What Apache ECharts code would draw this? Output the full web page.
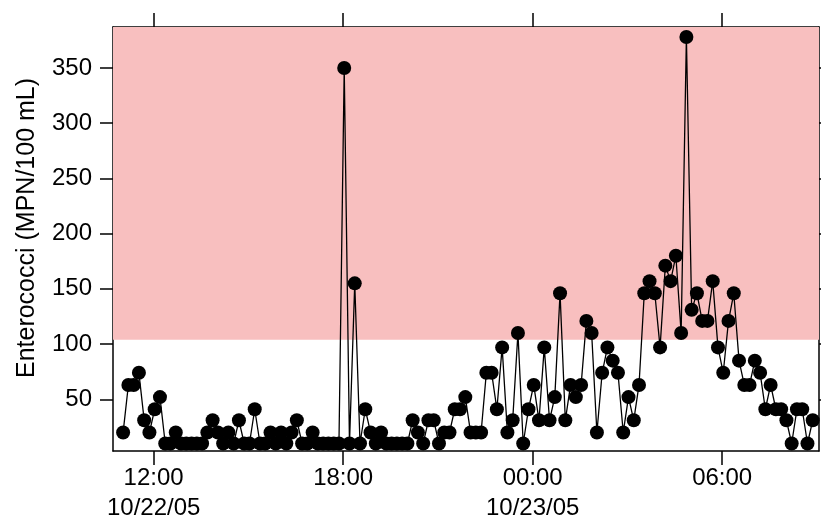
<!DOCTYPE html>
<html>
<head>
<meta charset="utf-8">
<script src="https://cdn.jsdelivr.net/npm/echarts@6/dist/echarts.min.js"></script>
<style>
  html, body { margin: 0; padding: 0; background: #fff; }
  #container { width: 821px; height: 524px; }
</style>
</head>
<body>
<div id="container"></div>
<script>
// samples every 10 minutes, first one at 11:02 on 10/22/05 (hours since midnight 10/22)
var sampleStartHour = 11 + 2 / 60;
var sampleStepHour = 10 / 60;

var enterococci = [
    20, 63, 63, 74, 31, 20, 41, 52, 10, 10,
    20, 10, 10, 10, 10, 10, 20, 31, 20, 10,
    20, 10, 31, 10, 10, 41, 10, 10, 20, 10,
    20, 10, 20, 31, 10, 10, 20, 10, 10, 10,
    10, 10, 350, 10, 155, 10, 41, 20, 10, 20,
    10, 10, 10, 10, 10, 31, 20, 10, 31, 31,
    10, 20, 20, 41, 41, 52, 20, 20, 20, 74,
    74, 41, 97, 20, 31, 110, 10, 41, 63, 31,
    97, 31, 52, 146, 31, 63, 52, 63, 121, 110,
    20, 74, 97, 85, 74, 20, 52, 31, 63, 146,
    157, 146, 97, 171, 157, 180, 110, 378, 131, 146,
    121, 121, 157, 97, 74, 121, 146, 85, 63, 63,
    85, 74, 41, 63, 41, 41, 31, 10, 41, 41,
    10, 31
];

var xTickHours = [12, 18, 24, 30];
var xTickLabels = ['12:00\n10/22/05', '18:00', '00:00\n10/23/05', '06:00'];
var yTicks = [50, 100, 150, 200, 250, 300, 350];
var threshold = 104;

var xMin = 10.713, xMax = 33.065;
var yMin = 3.2, yMax = 387.1;

var points = enterococci.map(function (v, i) {
    return [sampleStartHour + i * sampleStepHour, v];
});

var myChart = echarts.init(document.getElementById('container'));
var axisFont = 'Liberation Sans, Arial, sans-serif';
var option = {
    animation: false,
    grid: { left: 113, right: 2, top: 27, bottom: 73, outerBoundsMode: 'none' },
    xAxis: [
        {
            type: 'value',
            position: 'bottom',
            min: xMin,
            max: xMax,
            axisLine: { show: true, lineStyle: { color: '#000', width: 1.5 } },
            axisTick: { show: true, customValues: xTickHours, length: 14, lineStyle: { color: '#000', width: 1.5 } },
            axisLabel: {
                customValues: xTickHours,
                formatter: function (v) {
                    var k = xTickHours.indexOf(Math.round(v));
                    return k >= 0 ? xTickLabels[k] : '';
                },
                color: '#000',
                fontFamily: axisFont,
                fontSize: 24,
                lineHeight: 30,
                margin: 12
            },
            splitLine: { show: false }
        },
        {
            type: 'value',
            position: 'top',
            min: xMin,
            max: xMax,
            axisLine: { show: true, lineStyle: { color: '#000', width: 1.5 } },
            axisTick: { show: true, customValues: xTickHours, length: 14, lineStyle: { color: '#000', width: 1.5 } },
            axisLabel: { show: false },
            splitLine: { show: false }
        }
    ],
    yAxis: [
        {
            type: 'value',
            position: 'left',
            min: yMin,
            max: yMax,
            name: 'Enterococci (MPN/100 mL)',
            nameLocation: 'middle',
            nameGap: 73,
            nameTextStyle: { color: '#000', fontFamily: axisFont, fontSize: 25, padding: [0, 0, 0, 22] },
            axisLine: { show: true, lineStyle: { color: '#000', width: 1.5 } },
            axisTick: { show: true, customValues: yTicks, length: 13, lineStyle: { color: '#000', width: 1.5 } },
            axisLabel: { customValues: yTicks, color: '#000', fontFamily: axisFont, fontSize: 24, margin: 21 },
            splitLine: { show: false }
        },
        {
            type: 'value',
            position: 'right',
            min: yMin,
            max: yMax,
            axisLine: { show: true, lineStyle: { color: '#000', width: 1.5 } },
            axisTick: { show: true, customValues: yTicks, length: 13, lineStyle: { color: '#000', width: 1.5 } },
            axisLabel: { show: false },
            splitLine: { show: false }
        }
    ],
    series: [
        {
            type: 'line',
            data: points,
            symbol: 'circle',
            symbolSize: 14,
            itemStyle: { color: '#000' },
            lineStyle: { color: '#000', width: 1.3 },
            markArea: {
                silent: true,
                itemStyle: { color: '#f8bfbf' },
                data: [[{ yAxis: threshold }, { yAxis: yMax }]]
            }
        }
    ]
};

myChart.setOption(option, true);
window.onresize = function () {
    myChart.resize();
};
</script>
</body>
</html>
